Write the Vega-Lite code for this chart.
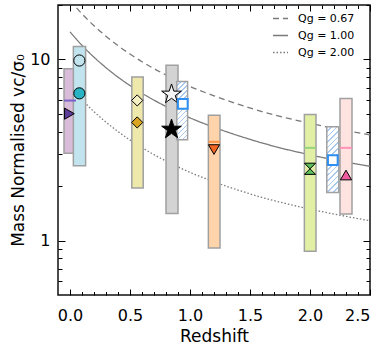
{
  "$schema": "https://vega.github.io/schema/vega-lite/v6.json",
  "width": 312,
  "height": 290,
  "autosize": "none",
  "padding": {"left": 58, "top": 5, "right": 14, "bottom": 51},
  "background": "white",
  "config": {
    "view": {"stroke": "#111111", "strokeWidth": 1.5},
    "font": "DejaVu Sans",
    "axis": {"grid": false, "domain": false, "zindex": 1, "tickColor": "#000000", "tickWidth": 1, "labelColor": "#000000", "titleColor": "#000000", "labelFont": "DejaVu Sans", "titleFont": "DejaVu Sans", "labelFontSize": 16, "titleFontSize": 17, "titleFontWeight": "normal"}
  },
  "datasets": {
    "curves": [
      {"z": 0, "v": 21.22, "q": "Qg = 0.67"}, {"z": 0.05, "v": 19.42, "q": "Qg = 0.67"}, {"z": 0.1, "v": 17.87, "q": "Qg = 0.67"}, {"z": 0.2, "v": 15.37, "q": "Qg = 0.67"}, {"z": 0.3, "v": 13.45, "q": "Qg = 0.67"}, {"z": 0.4, "v": 11.93, "q": "Qg = 0.67"}, {"z": 0.5, "v": 10.72, "q": "Qg = 0.67"}, {"z": 0.6, "v": 9.72, "q": "Qg = 0.67"}, {"z": 0.7, "v": 8.9, "q": "Qg = 0.67"}, {"z": 0.8, "v": 8.21, "q": "Qg = 0.67"}, {"z": 0.9, "v": 7.61, "q": "Qg = 0.67"}, {"z": 1.0, "v": 7.1, "q": "Qg = 0.67"}, {"z": 1.2, "v": 6.3, "q": "Qg = 0.67"}, {"z": 1.4, "v": 5.67, "q": "Qg = 0.67"}, {"z": 1.6, "v": 5.16, "q": "Qg = 0.67"}, {"z": 1.8, "v": 4.76, "q": "Qg = 0.67"}, {"z": 2.0, "v": 4.44, "q": "Qg = 0.67"}, {"z": 2.2, "v": 4.16, "q": "Qg = 0.67"}, {"z": 2.5, "v": 3.84, "q": "Qg = 0.67"},
      {"z": 0, "v": 14.22, "q": "Qg = 1.00"}, {"z": 0.05, "v": 13.01, "q": "Qg = 1.00"}, {"z": 0.1, "v": 11.97, "q": "Qg = 1.00"}, {"z": 0.2, "v": 10.3, "q": "Qg = 1.00"}, {"z": 0.3, "v": 9.01, "q": "Qg = 1.00"}, {"z": 0.4, "v": 7.99, "q": "Qg = 1.00"}, {"z": 0.5, "v": 7.18, "q": "Qg = 1.00"}, {"z": 0.6, "v": 6.51, "q": "Qg = 1.00"}, {"z": 0.7, "v": 5.96, "q": "Qg = 1.00"}, {"z": 0.8, "v": 5.5, "q": "Qg = 1.00"}, {"z": 0.9, "v": 5.1, "q": "Qg = 1.00"}, {"z": 1.0, "v": 4.76, "q": "Qg = 1.00"}, {"z": 1.2, "v": 4.22, "q": "Qg = 1.00"}, {"z": 1.4, "v": 3.8, "q": "Qg = 1.00"}, {"z": 1.6, "v": 3.46, "q": "Qg = 1.00"}, {"z": 1.8, "v": 3.19, "q": "Qg = 1.00"}, {"z": 2.0, "v": 2.975, "q": "Qg = 1.00"}, {"z": 2.2, "v": 2.79, "q": "Qg = 1.00"}, {"z": 2.5, "v": 2.57, "q": "Qg = 1.00"},
      {"z": 0, "v": 7.11, "q": "Qg = 2.00"}, {"z": 0.05, "v": 6.51, "q": "Qg = 2.00"}, {"z": 0.1, "v": 5.99, "q": "Qg = 2.00"}, {"z": 0.2, "v": 5.15, "q": "Qg = 2.00"}, {"z": 0.3, "v": 4.51, "q": "Qg = 2.00"}, {"z": 0.4, "v": 4.0, "q": "Qg = 2.00"}, {"z": 0.5, "v": 3.59, "q": "Qg = 2.00"}, {"z": 0.6, "v": 3.26, "q": "Qg = 2.00"}, {"z": 0.7, "v": 2.98, "q": "Qg = 2.00"}, {"z": 0.8, "v": 2.75, "q": "Qg = 2.00"}, {"z": 0.9, "v": 2.55, "q": "Qg = 2.00"}, {"z": 1.0, "v": 2.38, "q": "Qg = 2.00"}, {"z": 1.2, "v": 2.11, "q": "Qg = 2.00"}, {"z": 1.4, "v": 1.9, "q": "Qg = 2.00"}, {"z": 1.6, "v": 1.73, "q": "Qg = 2.00"}, {"z": 1.8, "v": 1.6, "q": "Qg = 2.00"}, {"z": 2.0, "v": 1.49, "q": "Qg = 2.00"}, {"z": 2.2, "v": 1.4, "q": "Qg = 2.00"}, {"z": 2.5, "v": 1.285, "q": "Qg = 2.00"}
    ],
    "boxes": [
      {"id": "A", "z1": -0.05, "z2": 0.05, "lo": 3.03, "hi": 8.9},
      {"id": "B", "z1": 0.028, "z2": 0.13, "lo": 2.59, "hi": 11.8},
      {"id": "C", "z1": 0.515, "z2": 0.61, "lo": 1.95, "hi": 8.0},
      {"id": "D", "z1": 0.8, "z2": 0.9, "lo": 1.41, "hi": 9.3},
      {"id": "F", "z1": 1.153, "z2": 1.25, "lo": 0.91, "hi": 4.92},
      {"id": "G", "z1": 1.953, "z2": 2.05, "lo": 0.873, "hi": 4.97},
      {"id": "I", "z1": 2.25, "z2": 2.35, "lo": 1.4, "hi": 6.09}
    ],
    "hatched": [
      {"id": "E", "z1": 0.89, "z2": 0.98, "lo": 3.6, "hi": 7.56},
      {"id": "H", "z1": 2.14, "z2": 2.24, "lo": 1.84, "hi": 4.25}
    ],
    "medians": [
      {"id": "A", "z1": -0.05, "z2": 0.05, "med": 5.93},
      {"id": "F", "z1": 1.153, "z2": 1.25, "med": 3.51},
      {"id": "G", "z1": 1.953, "z2": 2.05, "med": 3.25},
      {"id": "I", "z1": 2.25, "z2": 2.35, "med": 3.25}
    ],
    "points": [
      {"m": "A-tri", "z": -0.005, "v": 5.02},
      {"m": "B-open", "z": 0.078, "v": 9.87},
      {"m": "B-fill", "z": 0.078, "v": 6.5},
      {"m": "C-open", "z": 0.56, "v": 5.94},
      {"m": "C-fill", "z": 0.56, "v": 4.49},
      {"m": "D-open", "z": 0.846, "v": 6.42},
      {"m": "D-fill", "z": 0.846, "v": 4.11},
      {"m": "E-sq", "z": 0.94, "v": 5.68},
      {"m": "F-tri", "z": 1.2, "v": 3.18},
      {"m": "G-hg", "z": 2.0, "v": 2.49},
      {"m": "H-sq", "z": 2.19, "v": 2.78},
      {"m": "I-tri", "z": 2.3, "v": 2.3}
    ]
  },
  "resolve": {
    "axis": {"x": "independent", "y": "independent"},
    "scale": {"fill": "independent", "stroke": "independent", "shape": "independent", "size": "independent", "strokeWidth": "independent", "strokeDash": "independent"}
  },
  "layer": [
    {
      "data": {"name": "curves"},
      "mark": {"type": "line", "clip": true, "color": "#7a7a7a", "strokeWidth": 1.3, "interpolate": "monotone"},
      "encoding": {
        "x": {"field": "z", "type": "quantitative", "scale": {"domain": [-0.1, 2.5], "nice": false, "zero": false},
              "axis": {"orient": "bottom", "values": [0, 0.5, 1, 1.5, 2, 2.5], "format": ".1f", "ticks": false, "labelPadding": 12, "title": "Redshift", "titlePadding": 5}},
        "y": {"field": "v", "type": "quantitative", "scale": {"type": "log", "domain": [0.5, 20], "nice": false},
              "axis": {"orient": "left", "values": [1, 10], "format": "d", "ticks": false, "labelPadding": 8, "title": "Mass Normalised vc/σ₀", "titlePadding": 2}},
        "detail": {"field": "q"},
        "strokeDash": {"field": "q", "type": "nominal",
          "scale": {"domain": ["Qg = 0.67", "Qg = 1.00", "Qg = 2.00"], "range": [[6, 4], [1, 0], [1.5, 2]]},
          "legend": {"orient": "none", "legendX": 214, "legendY": 5, "title": null, "symbolType": "stroke", "symbolSize": 225, "symbolStrokeWidth": 1.5, "symbolStrokeColor": "#7a7a7a", "labelFontSize": 11, "labelFont": "DejaVu Sans", "labelColor": "#000000", "rowPadding": 3, "labelOffset": 9}}
      }
    },
    {
      "data": {"name": "boxes"},
      "mark": {"type": "rect", "stroke": "#a0a0a0", "strokeWidth": 1.5},
      "encoding": {
        "x": {"field": "z1", "type": "quantitative", "scale": {"domain": [-0.1, 2.5], "nice": false, "zero": false},
              "axis": {"orient": "bottom", "values": [0, 0.5, 1, 1.5, 2, 2.5], "labels": false, "offset": -6, "tickSize": 6, "title": null}},
        "x2": {"field": "z2"},
        "y": {"field": "lo", "type": "quantitative", "scale": {"type": "log", "domain": [0.5, 20], "nice": false},
              "axis": {"orient": "left", "values": [1, 10], "labels": false, "offset": -7, "tickSize": 7, "title": null}},
        "y2": {"field": "hi"},
        "fill": {"field": "id", "type": "nominal", "legend": null,
          "scale": {"domain": ["A", "B", "C", "D", "F", "G", "I"], "range": ["#d9bcd9", "#c2e4ef", "#eee8aa", "#d3d3d3", "#ffd4aa", "#e1f0a4", "#ffe3e1"]}}
      }
    },
    {
      "data": {"name": "hatched"},
      "mark": {"type": "rect", "stroke": "#a0a0a0", "strokeWidth": 1.5,
        "fill": {"gradient": "linear", "x1": 0, "y1": 0, "x2": 0.21, "y2": 1.17, "stops": [
          {"offset": 0, "color": "#ffffff"}, {"offset": 0.049, "color": "#ffffff"}, {"offset": 0.049, "color": "#a9c9ef"}, {"offset": 0.07, "color": "#a9c9ef"},
          {"offset": 0.07, "color": "#ffffff"}, {"offset": 0.119, "color": "#ffffff"}, {"offset": 0.119, "color": "#a9c9ef"}, {"offset": 0.14, "color": "#a9c9ef"},
          {"offset": 0.14, "color": "#ffffff"}, {"offset": 0.189, "color": "#ffffff"}, {"offset": 0.189, "color": "#a9c9ef"}, {"offset": 0.21, "color": "#a9c9ef"},
          {"offset": 0.21, "color": "#ffffff"}, {"offset": 0.259, "color": "#ffffff"}, {"offset": 0.259, "color": "#a9c9ef"}, {"offset": 0.28, "color": "#a9c9ef"},
          {"offset": 0.28, "color": "#ffffff"}, {"offset": 0.329, "color": "#ffffff"}, {"offset": 0.329, "color": "#a9c9ef"}, {"offset": 0.35, "color": "#a9c9ef"},
          {"offset": 0.35, "color": "#ffffff"}, {"offset": 0.399, "color": "#ffffff"}, {"offset": 0.399, "color": "#a9c9ef"}, {"offset": 0.42, "color": "#a9c9ef"},
          {"offset": 0.42, "color": "#ffffff"}, {"offset": 0.469, "color": "#ffffff"}, {"offset": 0.469, "color": "#a9c9ef"}, {"offset": 0.49, "color": "#a9c9ef"},
          {"offset": 0.49, "color": "#ffffff"}, {"offset": 0.539, "color": "#ffffff"}, {"offset": 0.539, "color": "#a9c9ef"}, {"offset": 0.56, "color": "#a9c9ef"},
          {"offset": 0.56, "color": "#ffffff"}, {"offset": 0.609, "color": "#ffffff"}, {"offset": 0.609, "color": "#a9c9ef"}, {"offset": 0.63, "color": "#a9c9ef"},
          {"offset": 0.63, "color": "#ffffff"}, {"offset": 0.679, "color": "#ffffff"}, {"offset": 0.679, "color": "#a9c9ef"}, {"offset": 0.7, "color": "#a9c9ef"},
          {"offset": 0.7, "color": "#ffffff"}, {"offset": 0.749, "color": "#ffffff"}, {"offset": 0.749, "color": "#a9c9ef"}, {"offset": 0.77, "color": "#a9c9ef"},
          {"offset": 0.77, "color": "#ffffff"}, {"offset": 0.819, "color": "#ffffff"}, {"offset": 0.819, "color": "#a9c9ef"}, {"offset": 0.84, "color": "#a9c9ef"},
          {"offset": 0.84, "color": "#ffffff"}, {"offset": 0.889, "color": "#ffffff"}, {"offset": 0.889, "color": "#a9c9ef"}, {"offset": 0.91, "color": "#a9c9ef"},
          {"offset": 0.91, "color": "#ffffff"}, {"offset": 0.959, "color": "#ffffff"}, {"offset": 0.959, "color": "#a9c9ef"}, {"offset": 0.98, "color": "#a9c9ef"},
          {"offset": 0.98, "color": "#ffffff"}, {"offset": 1, "color": "#ffffff"}
        ]}},
      "encoding": {
        "x": {"field": "z1", "type": "quantitative", "scale": {"domain": [-0.1, 2.5], "nice": false, "zero": false},
              "axis": {"orient": "bottom", "values": [0.1, 0.2, 0.3, 0.4, 0.6, 0.7, 0.8, 0.9, 1.1, 1.2, 1.3, 1.4, 1.6, 1.7, 1.8, 1.9, 2.1, 2.2, 2.3, 2.4], "labels": false, "offset": -3.5, "tickSize": 3.5, "title": null}},
        "x2": {"field": "z2"},
        "y": {"field": "lo", "type": "quantitative", "scale": {"type": "log", "domain": [0.5, 20], "nice": false},
              "axis": {"orient": "left", "values": [0.6, 0.7, 0.8, 0.9, 2, 3, 4, 5, 6, 7, 8, 9, 20], "labels": false, "offset": -4, "tickSize": 4, "title": null}},
        "y2": {"field": "hi"}
      }
    },
    {
      "data": {"name": "medians"},
      "mark": {"type": "rule", "strokeWidth": 2},
      "encoding": {
        "x": {"field": "z1", "type": "quantitative", "scale": {"domain": [-0.1, 2.5], "nice": false, "zero": false},
              "axis": {"orient": "top", "values": [0, 0.5, 1, 1.5, 2, 2.5], "labels": false, "offset": -6, "tickSize": 6, "title": null}},
        "x2": {"field": "z2"},
        "y": {"field": "med", "type": "quantitative", "scale": {"type": "log", "domain": [0.5, 20], "nice": false},
              "axis": {"orient": "right", "values": [1, 10], "labels": false, "offset": -7, "tickSize": 7, "title": null}},
        "stroke": {"field": "id", "type": "nominal", "legend": null,
          "scale": {"domain": ["A", "F", "G", "I"], "range": ["#7b62c8", "#ff9348", "#96d47e", "#ff92b8"]}}
      }
    },
    {
      "data": {"name": "points"},
      "transform": [{"filter": {"field": "m", "oneOf": ["A-tri", "B-open", "B-fill", "C-open", "C-fill", "F-tri", "G-hg", "I-tri"]}}],
      "mark": {"type": "point", "filled": true, "opacity": 1, "fillOpacity": 1, "strokeOpacity": 1, "stroke": "#000000", "strokeWidth": 1, "size": 125},
      "encoding": {
        "x": {"field": "z", "type": "quantitative", "scale": {"domain": [-0.1, 2.5], "nice": false, "zero": false},
              "axis": {"orient": "top", "values": [0.1, 0.2, 0.3, 0.4, 0.6, 0.7, 0.8, 0.9, 1.1, 1.2, 1.3, 1.4, 1.6, 1.7, 1.8, 1.9, 2.1, 2.2, 2.3, 2.4], "labels": false, "offset": -3.5, "tickSize": 3.5, "title": null}},
        "y": {"field": "v", "type": "quantitative", "scale": {"type": "log", "domain": [0.5, 20], "nice": false},
              "axis": {"orient": "right", "values": [0.6, 0.7, 0.8, 0.9, 2, 3, 4, 5, 6, 7, 8, 9, 20], "labels": false, "offset": -4, "tickSize": 4, "title": null}},
        "shape": {"field": "m", "type": "nominal", "legend": null,
          "scale": {"domain": ["A-tri", "B-open", "B-fill", "C-open", "C-fill", "F-tri", "G-hg", "I-tri"],
                    "range": ["triangle-right", "circle", "circle", "diamond", "diamond", "triangle-down", "M-1,-1L1,-1L-1,1L1,1Z", "triangle-up"]}},
        "fill": {"field": "m", "type": "nominal", "legend": null,
          "scale": {"domain": ["A-tri", "B-open", "B-fill", "C-open", "C-fill", "F-tri", "G-hg", "I-tri"],
                    "range": ["#5e3c99", "#c2e4ef", "#2ab3c3", "#f5efc4", "#d9a520", "#f26522", "#5cbf5c", "#f15a9f"]}}
      }
    },
    {
      "data": {"name": "points"},
      "transform": [{"filter": {"field": "m", "oneOf": ["D-open", "D-fill"]}}],
      "mark": {"type": "point", "filled": true, "opacity": 1, "fillOpacity": 1, "strokeOpacity": 1, "stroke": "#000000", "strokeWidth": 1, "size": 430,
               "shape": "M0,-1L0.2245,-0.309L0.951,-0.309L0.363,0.118L0.588,0.809L0,0.382L-0.588,0.809L-0.363,0.118L-0.951,-0.309L-0.2245,-0.309Z"},
      "encoding": {
        "x": {"field": "z", "type": "quantitative", "scale": {"domain": [-0.1, 2.5], "nice": false, "zero": false}, "axis": null},
        "y": {"field": "v", "type": "quantitative", "scale": {"type": "log", "domain": [0.5, 20], "nice": false}, "axis": null},
        "fill": {"field": "m", "type": "nominal", "legend": null,
          "scale": {"domain": ["D-open", "D-fill"], "range": ["#f4f4f4", "#000000"]}}
      }
    },
    {
      "data": {"name": "points"},
      "transform": [{"filter": {"field": "m", "oneOf": ["E-sq", "H-sq"]}}],
      "mark": {"type": "point", "shape": "square", "filled": false, "fill": "#ffffff", "opacity": 1, "fillOpacity": 1, "strokeOpacity": 1, "stroke": "#2f8ff0", "strokeWidth": 2, "size": 95},
      "encoding": {
        "x": {"field": "z", "type": "quantitative", "scale": {"domain": [-0.1, 2.5], "nice": false, "zero": false}, "axis": null},
        "y": {"field": "v", "type": "quantitative", "scale": {"type": "log", "domain": [0.5, 20], "nice": false}, "axis": null}
      }
    }
  ]
}
